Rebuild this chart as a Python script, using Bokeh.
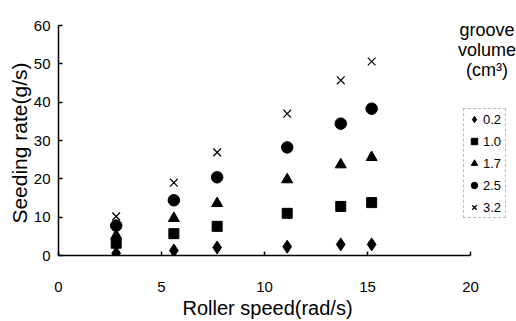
from bokeh.plotting import figure
from bokeh.models import Range1d, FixedTicker, Label, Legend, LegendItem, Title
from bokeh.embed import file_html
from bokeh.resources import INLINE

speed = [2.8, 5.6, 7.7, 11.1, 13.7, 15.2]
v02 = [0.6, 1.3, 2.1, 2.3, 2.9, 2.9]
v10 = [3.2, 5.7, 7.6, 11.0, 12.8, 13.8]
v17 = [5.2, 9.7, 13.6, 19.8, 23.7, 25.6]
v25 = [7.8, 14.4, 20.4, 28.2, 34.4, 38.3]
v32 = [10.2, 19.0, 26.9, 37.0, 45.7, 50.6]
series_labels = ["0.2", "1.0", "1.7", "2.5", "3.2"]
x_ticks = [0, 5, 10, 15, 20]
y_ticks = [0, 10, 20, 30, 40, 50, 60]
x_title = "Roller speed(rad/s)"
y_title = "Seeding rate(g/s)"
legend_title = ["groove", "volume", "(cm\u00b3)"]

FONT = "Liberation Sans"

p = figure(width=516, height=321, output_backend="svg", toolbar_location=None,
           x_range=Range1d(0, 22.23), y_range=Range1d(0, 60),
           min_border_left=58, min_border_right=0, min_border_top=25, min_border_bottom=66)
p.outline_line_color = None
p.xgrid.visible = False
p.ygrid.visible = False
p.background_fill_color = "white"

for ax, ticks, bounds in ((p.xaxis, x_ticks, (0, 20)), (p.yaxis, y_ticks, (0, 60))):
    ax.ticker = FixedTicker(ticks=ticks)
    ax.bounds = bounds
    ax.major_tick_in = 4
    ax.major_tick_out = 0
    ax.minor_tick_line_color = None
    ax.axis_line_width = 1.5
    ax.axis_line_color = "black"
    ax.major_tick_line_color = "black"
    ax.major_tick_line_width = 1.5
    ax.major_label_text_font = FONT
    ax.major_label_text_font_size = "15px"
    ax.major_label_text_color = "black"
p.xaxis.major_label_standoff = 26
p.yaxis.major_label_standoff = 8

r1 = p.scatter(speed, v02, marker="diamond", size=13, color="black")
r2 = p.scatter(speed, v10, marker="square", size=10, color="black")
r3 = p.scatter(speed, v17, marker="triangle", size=11, color="black")
r4 = p.scatter(speed, v25, marker="circle", size=11.5, color="black")
r5 = p.scatter(speed, v32, marker="x", size=11, line_color="black", line_width=1.2)

legend = Legend(items=[LegendItem(label=l, renderers=[r]) for l, r in
                       zip(series_labels, [r1, r2, r3, r4, r5])],
                location=(405, 37), orientation="vertical")
legend.border_line_color = "#777777"
legend.border_line_dash = "dotted"
legend.border_line_width = 1
legend.background_fill_alpha = 0
legend.label_text_font = FONT
legend.label_text_font_size = "13px"
legend.label_text_color = "black"
legend.glyph_width = 16
legend.glyph_height = 16
legend.label_height = 16
legend.spacing = 6
legend.padding = 2
legend.margin = 0
legend.label_standoff = 1
p.add_layout(legend)

for txt, yy in zip(legend_title, [58.7, 53.7, 48.3]):
    p.add_layout(Label(x=20.8, y=yy, text=txt, text_align="center", text_baseline="middle",
                       text_font=FONT, text_font_size="18px", text_color="black"))

p.add_layout(Title(text=x_title, align="left", offset=124, standoff=0,
                   text_font=FONT, text_font_size="20px", text_font_style="normal",
                   text_color="black"), "below")
p.add_layout(Title(text=y_title, align="right", offset=37, standoff=0,
                   text_font=FONT, text_font_size="21px", text_font_style="normal",
                   text_color="black"), "left")

open("out.html", "w").write(file_html(p, INLINE))
